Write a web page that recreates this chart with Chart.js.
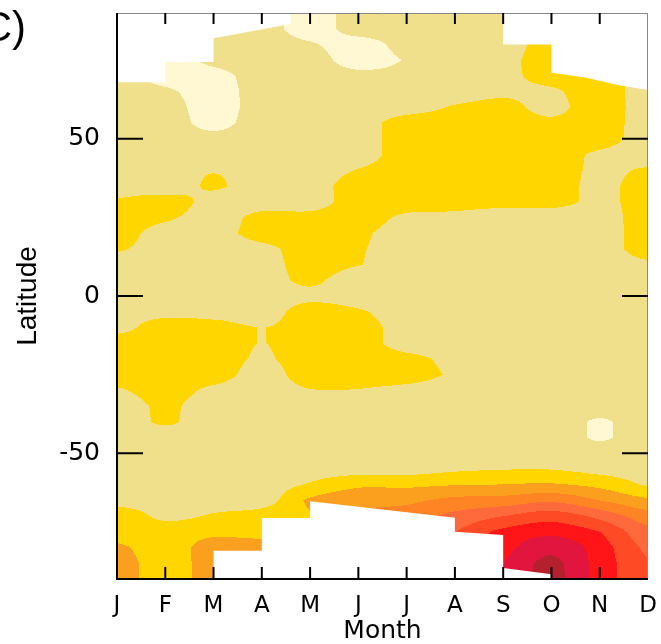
<!DOCTYPE html>
<html>
<head>
<meta charset="utf-8">
<script src="https://cdn.jsdelivr.net/npm/chart.js@4.4.1/dist/chart.umd.min.js"></script>
<style>
  html, body { margin: 0; background: #fff; }
</style>
</head>
<body>
<canvas id="chart" width="661" height="644"></canvas>
<script>
/* ══════════════════════════════════════
   Month × latitude contour panel (C)
══════════════════════════════════════ */

// ── DATA ──────────────────────────────
const MONTHS = ['J', 'F', 'M', 'A', 'M', 'J', 'J', 'A', 'S', 'O', 'N', 'D'];
const Y_LABELS = [-50, 0, 50];

// field value per month, rows from 90N down to 90S every 5 degrees
//            90   85   80   75   70   65   60   55   50   45   40   35   30    25   20   15    10   5    0    -5   -10  -15  -20  -25  -30   -35  -40  -45  -50  -55  -60  -65  -70  -75  -80  -85  -90
const jan = [1.5, 1.5, 1.5, 1.5, 1.5, 1.5, 1.5, 1.5, 1.5, 1.5, 1.5, 1.5, 2.12, 2.5, 2.5, 2.12, 1.5, 1.5, 1.5, 1.5, 1.5, 2.75, 2.5, 2.5, 1.88, 1.3, 1.3, 1.5, 1.5, 1.5, 1.5, 1.5, 2.75, 2.5, 3.19, 3.5, 3.5];
const feb = [0.5, 0.5, 0.5, 0.5, 0.5, 1.21, 1.5, 1.5, 1.5, 1.5, 1.5, 1.1, 2.75, 2.21, 1.5, 1.5, 1.5, 1.5, 1.5, 1.5, 2.75, 2.5, 2.5, 2.5, 2.5, 2.2, 2.15, 1.5, 1.5, 1.5, 1.5, 1.5, 1.75, 2.58, 2.5, 2.5, 2.5];
const mar = [1.5, 1.5, 1.5, 1.3, 0.6, 0.5, 0.5, 0.7, 1.3, 1.5, 1.95, 2.2, 1.5, 1.5, 1.5, 1.5, 1.5, 1.5, 1.5, 1.5, 2.5, 2.5, 2.5, 2.5, 1.74, 1.3, 1.3, 1.5, 1.5, 1.5, 1.5, 1.5, 2.12, 2.75, 3.5, 3.5, 3.5];
const apr = [1.5, 1.5, 1.5, 1.5, 1.5, 1.5, 1.5, 1.5, 1.5, 1.5, 1.5, 1.1, 1.5, 2.33, 2.5, 1.67, 1.5, 1.5, 1.5, 1.5, 1.99, 1.99, 1.9, 1.6, 1.5, 1.5, 1.5, 1.5, 1.5, 1.5, 1.5, 1.5, 2.5, 2.6, 3.5, 3.5, 3.5];
const may = [0.5, 0.5, 1.12, 1.5, 1.5, 1.5, 1.5, 1.5, 1.5, 1.5, 1.5, 1.5, 1.5, 2.33, 2.5, 2.5, 2.5, 2.2, 1.7, 2.45, 2.5, 2.5, 2.5, 2.5, 1.95, 1.5, 1.5, 1.5, 1.5, 1.5, 2.1, 3.2, 2.9, 3.0, 3.0, 3.0, 3.0];
const jun = [1.5, 1.5, 0.5, 0.5, 1.33, 1.5, 1.5, 1.5, 1.5, 1.5, 2.05, 2.5, 2.5, 2.5, 2.2, 2.1, 2.05, 1.3, 1.5, 2.12, 2.5, 2.5, 2.5, 2.5, 1.95, 1.5, 1.5, 1.5, 1.5, 1.5, 2.8, 3.8, 4.0, 4.5, 4.5, 4.5, 4.5];
const jul = [1.5, 1.5, 1.4, 1.06, 1.3, 1.5, 1.5, 2.54, 2.5, 2.5, 2.5, 2.5, 2.5, 1.8, 1.5, 1.5, 1.5, 1.5, 1.5, 1.5, 1.5, 1.5, 2.33, 2.5, 1.67, 1.5, 1.5, 1.5, 1.5, 1.5, 2.8, 3.8, 4.5, 5.0, 5.0, 5.0, 5.0];
const aug = [1.5, 1.5, 1.5, 1.5, 1.5, 1.5, 2.1, 2.5, 2.5, 2.5, 2.5, 2.5, 2.5, 1.67, 1.5, 1.5, 1.5, 1.5, 1.5, 1.5, 1.5, 1.5, 1.7, 1.84, 1.5, 1.5, 1.5, 1.5, 1.5, 1.8, 2.95, 4.3, 5.3, 6.0, 6.0, 6.0, 6.0];
const sep = [1.5, 1.5, 1.5, 1.73, 1.73, 1.8, 2.3, 2.5, 2.5, 2.5, 2.5, 2.5, 2.5, 1.25, 1.5, 1.5, 1.5, 1.5, 1.5, 1.5, 1.5, 1.5, 1.5, 1.5, 1.5, 1.5, 1.5, 1.5, 1.5, 1.95, 3.02, 4.4, 6.0, 7.3, 7.6, 8.0, 8.0];
const oct = [2.5, 2.5, 2.5, 2.5, 2.4, 1.83, 1.7, 2.2, 2.5, 2.5, 2.5, 2.5, 2.5, 1.25, 1.5, 1.5, 1.5, 1.5, 1.5, 1.5, 1.5, 1.5, 1.5, 1.5, 1.5, 1.5, 1.85, 1.85, 1.5, 1.95, 3.1, 4.8, 6.6, 7.7, 8.8, 9.2, 9.3];
const nov = [2.5, 2.5, 2.5, 2.5, 2.5, 2.5, 2.5, 2.5, 2.5, 1.79, 1.8, 1.75, 1.75, 1.5, 1.5, 1.5, 1.5, 1.5, 1.5, 1.5, 1.5, 1.5, 1.5, 1.5, 1.5, 1.5, 0.85, 0.85, 1.5, 1.6, 2.7, 4.0, 5.7, 7.0, 7.5, 7.6, 7.6];
const dec = [1.5, 1.5, 1.5, 1.5, 1.5, 1.5, 1.5, 1.5, 1.5, 1.5, 2.12, 2.5, 2.5, 2.5, 2.5, 2.5, 1.79, 1.5, 1.5, 1.5, 1.5, 1.5, 1.5, 1.5, 1.5, 1.5, 1.85, 1.85, 1.5, 1.5, 1.9, 3.2, 4.5, 5.3, 5.8, 6.1, 6.1];
const COLUMNS = [jan, feb, mar, apr, may, jun, jul, aug, sep, oct, nov, dec];

// no-data areas, [month, latitude] outlines
const NORTH_GAP_WEST = [[0, 90], [0, 68], [1, 68], [1, 74.4], [2, 74.4], [2, 82], [3.6, 86.5], [3.6, 90]];
const NORTH_GAP_EAST = [[8, 90], [8, 80], [9, 80], [9, 71], [9.7, 69.5], [10.4, 67], [11, 65.5], [11, 90]];
const SOUTH_GAP = [[2, -90], [2, -81], [3, -81], [3, -70.6], [4, -70.6], [4, -65.3], [7, -70.5], [7, -75], [8, -76], [8, -86.5], [9, -88.5], [9, -90]];

// one colour per contour band, lowest first
const LEVEL_COLORS = ['#FFF8D2', '#F0E08C', '#FFD600', '#FAA01E', '#FF8524', '#FF6A3C', '#FF4A26', '#FF1418', '#E2153F', '#B4202E'];

// ── FIELD HELPERS ─────────────────────
function colValue(i, lat) {
  const col = COLUMNS[Math.max(0, Math.min(COLUMNS.length - 1, i))];
  const k = (90 - lat) / 5;
  const k0 = Math.max(0, Math.min(col.length - 2, Math.floor(k)));
  const t = k - k0;
  return col[k0] + (col[k0 + 1] - col[k0]) * t;
}

function catmull(vals, m) {
  const i = Math.max(0, Math.min(vals.length - 2, Math.floor(m)));
  const s = m - i;
  const at = n => vals[Math.max(0, Math.min(vals.length - 1, n))];
  const p0 = at(i - 1), p1 = at(i), p2 = at(i + 1), p3 = at(i + 2);
  return 0.5 * (2 * p1 + (p2 - p0) * s
    + (2 * p0 - 5 * p1 + 4 * p2 - p3) * s * s
    + (3 * p1 - p0 - 3 * p2 + p3) * s * s * s);
}

function hexRgb(h) {
  return [1, 3, 5].map(o => parseInt(h.slice(o, o + 2), 16));
}

// ── PLUGIN: contour fill, gaps, frame ─
const contourPlugin = {
  id: 'contour',
  beforeDatasetsDraw(chart) {
    const { ctx, chartArea: a, scales: { x, y } } = chart;
    const left = Math.round(a.left), top = Math.round(a.top);
    const w = Math.round(a.right) - left, h = Math.round(a.bottom) - top;
    const img = ctx.createImageData(w, h);
    const rgb = LEVEL_COLORS.map(hexRgb);
    const mAt = [];
    for (let i = 0; i < w; i++) mAt.push(x.getValueForPixel(left + i + 0.5));

    for (let j = 0; j < h; j++) {
      const lat = y.getValueForPixel(top + j + 0.5);
      const cv = COLUMNS.map((_, i) => colValue(i, lat));
      for (let i = 0; i < w; i++) {
        const v = catmull(cv, mAt[i]);
        const c = rgb[Math.max(0, Math.min(rgb.length - 1, Math.floor(v)))];
        const o = (j * w + i) * 4;
        img.data[o] = c[0]; img.data[o + 1] = c[1]; img.data[o + 2] = c[2]; img.data[o + 3] = 255;
      }
    }
    ctx.putImageData(img, left, top);

    // missing data
    ctx.save();
    ctx.fillStyle = '#fff';
    [NORTH_GAP_WEST, NORTH_GAP_EAST, SOUTH_GAP].forEach(poly => {
      ctx.beginPath();
      poly.forEach(([m, lat], n) => {
        const px = x.getPixelForValue(m), py = y.getPixelForValue(lat);
        n ? ctx.lineTo(px, py) : ctx.moveTo(px, py);
      });
      ctx.closePath();
      ctx.fill();
    });
    ctx.restore();
  },
  afterDraw(chart) {
    const { ctx, chartArea: a, scales: { x, y } } = chart;
    ctx.save();

    // frame
    ctx.strokeStyle = '#888';
    ctx.lineWidth = 1;
    ctx.beginPath();
    ctx.moveTo(a.left, a.top + 0.5); ctx.lineTo(a.right, a.top + 0.5);
    ctx.moveTo(a.right - 0.5, a.top); ctx.lineTo(a.right - 0.5, a.bottom);
    ctx.stroke();
    ctx.strokeStyle = '#000';
    ctx.lineWidth = 2;
    ctx.beginPath();
    ctx.moveTo(a.left, a.top); ctx.lineTo(a.left, a.bottom);
    ctx.lineTo(a.right, a.bottom);
    ctx.stroke();

    // inward ticks
    ctx.beginPath();
    y.ticks.forEach(t => {
      if (Math.abs(t.value) >= 90) return;
      const py = y.getPixelForValue(t.value);
      const len = Y_LABELS.includes(t.value) ? 26 : 12;
      ctx.moveTo(a.left, py); ctx.lineTo(a.left + len, py);
      ctx.moveTo(a.right, py); ctx.lineTo(a.right - len, py);
    });
    x.ticks.forEach(t => {
      if (t.value <= 0 || t.value >= MONTHS.length - 1) return;
      const px = x.getPixelForValue(t.value);
      ctx.moveTo(px, a.bottom); ctx.lineTo(px, a.bottom - 12);
      ctx.moveTo(px, a.top); ctx.lineTo(px, a.top + 11);
    });
    ctx.stroke();

    // panel letter
    ctx.fillStyle = '#000';
    ctx.font = '42px "Liberation Sans", Arial, sans-serif';
    ctx.textAlign = 'right';
    ctx.textBaseline = 'alphabetic';
    ctx.fillText('(C)', 26, 41);
    ctx.restore();
  },
};

// ── CHART ─────────────────────────────
new Chart(document.getElementById('chart'), {
  type: 'scatter',
  data: { datasets: [] },
  options: {
    responsive: false,
    animation: false,
    events: [],
    layout: { padding: { top: 13, right: 13, left: 0, bottom: 0 } },
    plugins: { legend: { display: false }, tooltip: { enabled: false } },
    scales: {
      x: {
        type: 'linear',
        min: 0,
        max: MONTHS.length - 1,
        grid: { display: false, drawTicks: false },
        border: { display: false },
        ticks: {
          stepSize: 1,
          autoSkip: false,
          maxRotation: 0,
          padding: 13,
          color: '#000',
          font: { family: 'DejaVu Sans', size: 23 },
          callback: v => MONTHS[v],
        },
        title: {
          display: true,
          text: 'Month',
          color: '#000',
          font: { family: 'DejaVu Sans', size: 25, lineHeight: 1 },
          padding: { top: 0, bottom: 0 },
        },
        afterFit: s => { s.height = 65; s.paddingLeft = 0; s.paddingRight = 0; },
      },
      y: {
        type: 'linear',
        min: -90,
        max: 90,
        grid: { display: false, drawTicks: false },
        border: { display: false },
        ticks: {
          stepSize: 10,
          autoSkip: false,
          padding: 17,
          color: '#000',
          font: { family: 'DejaVu Sans', size: 25 },
          callback: v => (Y_LABELS.includes(v) ? String(v) : null),
        },
        title: {
          display: true,
          text: 'Latitude',
          color: '#000',
          font: { family: 'Liberation Sans', size: 28 },
          padding: { top: 11, bottom: 0 },
        },
        afterFit: s => { s.width = 117; s.paddingTop = 0; s.paddingBottom = 0; },
      },
    },
  },
  plugins: [contourPlugin],
});
</script>
</body>
</html>
